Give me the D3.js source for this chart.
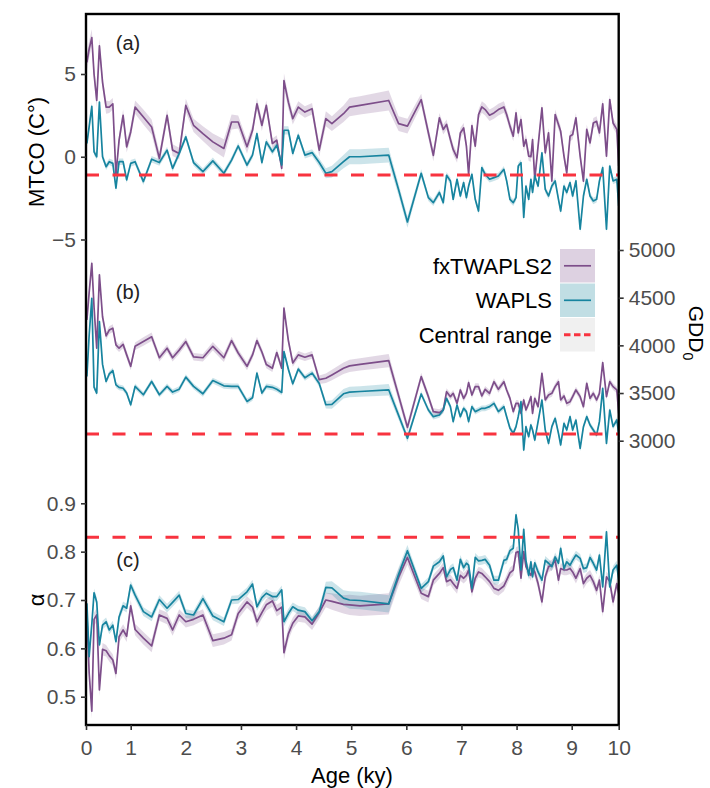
<!DOCTYPE html>
<meta charset="utf-8">
<style>
body { margin: 0; background: white; }
</style>
<body>
<script src="https://cdn.jsdelivr.net/npm/d3@7"></script>
<script>
// sample ages (ky), shared by every reconstruction
var ages = [0.02,0.07,0.13,0.18,0.24,0.30,0.37,0.45,0.52,0.60,
  0.67,0.74,0.83,0.91,1.00,1.08,1.23,1.38,1.52,1.66,
  1.76,1.88,2.00,2.14,2.31,2.49,2.69,2.83,2.95,3.11,
  3.21,3.29,3.38,3.46,3.57,3.65,3.74,3.78,3.86,3.94,
  4.04,4.16,4.29,4.42,4.54,4.65,4.86,4.97,5.16,5.68,
  5.86,6.02,6.27,6.40,6.49,6.60,6.67,6.73,6.80,6.85,
  6.92,6.98,7.04,7.09,7.13,7.19,7.25,7.31,7.37,7.43,
  7.51,7.59,7.67,7.77,7.82,7.88,7.94,7.99,8.03,8.08,
  8.13,8.17,8.22,8.26,8.29,8.33,8.39,8.46,8.52,8.58,
  8.64,8.70,8.76,8.80,8.86,8.91,8.97,9.02,9.09,9.18,
  9.25,9.32,9.39,9.46,9.53,9.59,9.66,9.74,9.81,9.88,
  9.96,10.0]

// (a) MTCO
var mtcoFx = [5.7,6.5,7.2,5.0,3.4,6.7,4.5,3.0,3.0,3.2,
  -1.1,1.0,2.5,0.6,1.5,3.0,2.4,1.8,-0.1,2.5,
  0.4,0.2,3.1,1.9,1.4,0.9,0.5,2.1,2.1,0.6,
  1.6,3.2,1.9,3.1,0.8,1.0,-0.7,4.6,3.3,2.3,
  3.0,2.7,2.9,0.4,2.3,2.0,2.6,3.0,3.1,3.4,
  2.0,1.85,3.45,1.45,0.08,2.35,1.65,1.95,1.04,0.44,
  -0.06,1.44,1.74,0.64,-1.07,1.88,0.64,2.55,3.01,2.85,
  2.51,2.65,2.85,3.01,2.55,1.85,1.24,2.65,1.44,2.25,
  0.64,1.04,0.04,0.0,1.04,-1.37,0.64,2.95,0.24,1.44,
  -1.47,2.55,1.95,1.54,0.04,-0.97,1.24,1.34,2.35,0.04,
  -1.47,1.65,0.84,2.04,2.14,1.44,3.2,0.04,3.45,2.04,
  1.65,-0.56]
var mtcoWa = [0.8,1.8,3.05,0.3,0.0,3.3,0.0,-0.6,-0.3,-0.4,
  -1.9,-0.3,-0.3,-1.4,-0.4,-0.3,-1.5,-0.15,-0.35,0.4,
  -0.7,0.2,1.2,-0.35,-0.9,-0.25,-1.0,-0.2,0.65,-0.5,
  0.1,1.4,-0.35,0.9,0.3,0.7,-0.5,1.6,1.6,0.2,
  1.3,0.1,0.25,-0.35,-1.0,-0.9,-0.3,0.0,0.0,0.1,
  -2.0,-3.94,-1.0,-2.47,-2.77,-2.16,-2.77,-1.12,-1.46,-2.57,
  -1.36,-2.37,-1.56,-2.47,-1.77,-1.06,-2.57,-3.28,-0.66,-1.06,
  -1.36,-1.26,-1.16,-0.76,-1.46,-2.57,-2.77,-2.47,-0.56,-0.36,
  -3.67,-1.77,-2.57,-1.36,-2.16,-1.16,-1.77,0.24,-1.97,-2.37,
  -1.77,-1.46,-2.57,-3.28,-1.77,-2.16,-1.56,-2.37,-1.46,-4.38,
  -2.37,-1.36,-2.37,-2.67,-2.57,-1.46,-0.66,-4.38,-0.56,-1.46,
  -1.36,-2.97]
var mtcoFxSe = [0.5,0.5,0.5,0.45,0.45,0.45,0.4,0.4,0.35,0.35,
  0.35,0.35,0.35,0.35,0.35,0.4,0.45,0.45,0.4,0.35,
  0.35,0.35,0.4,0.4,0.45,0.5,0.55,0.45,0.4,0.4,
  0.35,0.35,0.35,0.3,0.3,0.3,0.3,0.45,0.4,0.35,
  0.35,0.35,0.35,0.4,0.45,0.45,0.5,0.55,0.55,0.6,
  0.45,0.45,0.35,0.35,0.35,0.3,0.3,0.3,0.3,0.3,
  0.3,0.3,0.3,0.3,0.3,0.3,0.3,0.3,0.35,0.35,
  0.35,0.35,0.35,0.35,0.3,0.3,0.3,0.3,0.3,0.3,
  0.3,0.3,0.3,0.3,0.3,0.3,0.3,0.3,0.3,0.3,
  0.3,0.3,0.3,0.3,0.3,0.3,0.3,0.3,0.3,0.3,
  0.3,0.3,0.3,0.3,0.3,0.3,0.3,0.3,0.3,0.3,
  0.3,0.3]
var mtcoWaSe = [0.25,0.25,0.25,0.2,0.2,0.2,0.2,0.2,0.2,0.2,
  0.2,0.2,0.2,0.2,0.2,0.2,0.2,0.2,0.2,0.2,
  0.2,0.2,0.2,0.2,0.2,0.2,0.2,0.2,0.2,0.2,
  0.2,0.2,0.2,0.2,0.2,0.2,0.2,0.25,0.25,0.2,
  0.2,0.2,0.2,0.25,0.3,0.35,0.4,0.45,0.45,0.45,
  0.35,0.35,0.25,0.2,0.2,0.2,0.2,0.2,0.2,0.2,
  0.2,0.2,0.2,0.2,0.2,0.2,0.2,0.2,0.2,0.2,
  0.2,0.2,0.2,0.2,0.2,0.2,0.2,0.2,0.2,0.2,
  0.2,0.2,0.2,0.2,0.2,0.2,0.2,0.2,0.2,0.2,
  0.2,0.2,0.2,0.2,0.2,0.2,0.2,0.2,0.2,0.2,
  0.2,0.2,0.2,0.2,0.2,0.2,0.2,0.2,0.2,0.2,
  0.2,0.2]

// (b) GDD0
var gddFx = [4267,4550,4860,4400,3970,4740,4300,4100,4160,4180,
  4005,3970,4010,3900,3780,3990,4040,4090,3870,3970,
  3870,3950,4040,3880,3870,3990,3870,4050,3920,3780,
  3900,4050,3930,3800,3760,3925,3760,4390,4050,3815,
  3900,3875,3900,3640,3655,3690,3760,3785,3800,3840,
  3472,3140,3672,3462,3305,3294,3322,3514,3462,3497,
  3392,3532,3444,3497,3609,3479,3567,3567,3469,3539,
  3497,3619,3539,3619,3532,3444,3305,3392,3392,3287,
  3427,3322,3392,3462,3287,3444,3357,3707,3427,3479,
  3497,3567,3619,3427,3469,3392,3409,3462,3532,3462,
  3357,3602,3444,3497,3427,3497,3819,3462,3619,3567,
  3532,3287]
var gddWa = [3673,4100,4494,3562,3500,4249,3800,3621,3700,3736,
  3586,3560,3550,3500,3377,3569,3482,3621,3482,3569,
  3510,3540,3667,3570,3492,3631,3576,3570,3570,3412,
  3450,3709,3500,3569,3560,3540,3506,3935,3750,3597,
  3751,3660,3709,3600,3377,3380,3492,3510,3516,3534,
  3266,3025,3490,3322,3252,3270,3322,3444,3357,3200,
  3374,3252,3340,3305,3200,3357,3305,3322,3340,3340,
  3357,3392,3305,3357,3252,3130,3077,3147,3252,3409,
  2902,3147,3042,3165,3112,3007,3200,3427,3112,2972,
  3147,3235,3077,2955,3182,3112,3252,3112,3217,2920,
  3147,3252,3165,3112,3060,3200,3549,2972,3322,3147,
  3217,3077]
var gddFxSe = [45,45,45,45,40,40,40,40,40,40,
  40,40,40,40,40,40,45,45,40,40,
  40,40,40,40,40,45,45,40,40,40,
  40,40,40,40,40,40,40,45,45,40,
  40,40,40,45,50,55,60,65,65,70,
  55,50,40,40,35,35,35,35,35,35,
  35,35,35,35,35,35,35,35,35,35,
  35,35,35,35,35,35,35,35,35,35,
  35,35,35,35,35,35,35,35,35,35,
  35,35,35,35,35,35,35,35,35,35,
  35,35,35,35,35,35,35,35,35,35,
  35,35]
var gddWaSe = [35,35,35,30,30,30,30,30,30,30,
  30,30,30,30,30,30,30,30,30,30,
  30,30,30,30,30,30,30,30,30,30,
  30,30,30,30,30,30,30,35,35,30,
  30,30,30,35,40,45,50,55,55,60,
  45,40,30,30,30,30,30,30,30,30,
  30,30,30,30,30,30,30,30,30,30,
  30,30,30,30,30,30,30,30,30,30,
  30,30,30,30,30,30,30,30,30,30,
  30,30,30,30,30,30,30,30,30,30,
  30,30,30,30,30,30,30,30,30,30,
  30,30]

// (c) alpha
var alphaFx = [0.672,0.55,0.47,0.66,0.669,0.514,0.598,0.595,0.585,0.576,
  0.548,0.624,0.638,0.625,0.688,0.639,0.621,0.605,0.669,0.662,
  0.638,0.669,0.655,0.660,0.669,0.616,0.621,0.628,0.672,0.696,
  0.685,0.655,0.674,0.690,0.698,0.678,0.685,0.591,0.630,0.652,
  0.667,0.665,0.650,0.674,0.700,0.697,0.691,0.690,0.688,0.692,
  0.747,0.788,0.714,0.707,0.741,0.755,0.767,0.738,0.742,0.734,
  0.724,0.751,0.745,0.751,0.762,0.717,0.745,0.758,0.755,0.748,
  0.738,0.724,0.720,0.729,0.741,0.756,0.762,0.798,0.800,0.745,
  0.800,0.769,0.758,0.751,0.765,0.758,0.734,0.696,0.748,0.769,
  0.772,0.782,0.741,0.765,0.762,0.762,0.765,0.758,0.745,0.765,
  0.734,0.745,0.751,0.738,0.720,0.741,0.676,0.748,0.738,0.696,
  0.734,0.714]
var alphaWa = [0.693,0.583,0.65,0.715,0.696,0.607,0.648,0.655,0.638,0.648,
  0.614,0.665,0.688,0.683,0.731,0.710,0.676,0.665,0.701,0.683,
  0.695,0.710,0.672,0.669,0.703,0.667,0.655,0.700,0.701,0.717,
  0.733,0.686,0.705,0.714,0.707,0.707,0.721,0.655,0.672,0.686,
  0.679,0.676,0.657,0.676,0.726,0.725,0.704,0.700,0.699,0.692,
  0.753,0.802,0.724,0.738,0.770,0.779,0.791,0.748,0.763,0.767,
  0.741,0.784,0.767,0.776,0.772,0.724,0.788,0.781,0.782,0.784,
  0.772,0.741,0.741,0.782,0.784,0.802,0.807,0.876,0.846,0.762,
  0.846,0.782,0.751,0.779,0.748,0.777,0.758,0.741,0.782,0.776,
  0.769,0.789,0.776,0.807,0.765,0.779,0.772,0.782,0.793,0.786,
  0.765,0.767,0.788,0.776,0.762,0.793,0.727,0.841,0.727,0.762,
  0.772,0.741]
var alphaFxSe = [0.015,0.015,0.015,0.014,0.014,0.013,0.013,0.012,0.012,0.012,
  0.012,0.012,0.012,0.012,0.012,0.012,0.013,0.013,0.012,0.012,
  0.012,0.012,0.012,0.012,0.012,0.013,0.013,0.012,0.012,0.012,
  0.012,0.012,0.012,0.012,0.012,0.012,0.012,0.014,0.013,0.012,
  0.012,0.012,0.012,0.013,0.015,0.017,0.019,0.021,0.021,0.022,
  0.017,0.015,0.012,0.012,0.011,0.011,0.011,0.011,0.011,0.011,
  0.011,0.011,0.011,0.011,0.011,0.011,0.011,0.011,0.011,0.011,
  0.011,0.011,0.011,0.011,0.011,0.011,0.011,0.011,0.011,0.011,
  0.011,0.011,0.011,0.011,0.011,0.011,0.011,0.011,0.011,0.011,
  0.011,0.011,0.011,0.011,0.011,0.011,0.011,0.011,0.011,0.011,
  0.011,0.011,0.011,0.011,0.011,0.011,0.011,0.011,0.011,0.011,
  0.011,0.011]
var alphaWaSe = [0.01,0.01,0.01,0.009,0.009,0.009,0.009,0.009,0.009,0.009,
  0.009,0.009,0.009,0.009,0.009,0.009,0.009,0.009,0.009,0.009,
  0.009,0.009,0.009,0.009,0.009,0.009,0.009,0.009,0.009,0.009,
  0.009,0.009,0.009,0.009,0.009,0.009,0.009,0.01,0.01,0.009,
  0.009,0.009,0.009,0.01,0.012,0.014,0.016,0.018,0.018,0.018,
  0.014,0.012,0.009,0.009,0.009,0.009,0.009,0.009,0.009,0.009,
  0.009,0.009,0.009,0.009,0.009,0.009,0.009,0.009,0.009,0.009,
  0.009,0.009,0.009,0.009,0.009,0.009,0.009,0.009,0.009,0.009,
  0.009,0.009,0.009,0.009,0.009,0.009,0.009,0.009,0.009,0.009,
  0.009,0.009,0.009,0.009,0.009,0.009,0.009,0.009,0.009,0.009,
  0.009,0.009,0.009,0.009,0.009,0.009,0.009,0.009,0.009,0.009,
  0.009,0.009]

// central range of the modern training set
var centralMtco = -1.1
var centralGdd = 3070
var centralAlpha = 0.83

var ageTicks = [0, 1, 2, 3, 4, 5, 6, 7, 8, 9, 10]
var mtcoTicks = [-5, 0, 5]
var gddTicks = [3000, 3500, 4000, 4500, 5000]
var alphaTicks = [0.5, 0.6, 0.7, 0.8, 0.9]
var legendLabels = ['fxTWAPLS2', 'WAPLS', 'Central range']

draw()

function draw() {
  var font = '"Liberation Sans", Arial, sans-serif'
  var purple = '#7d4e8a'
  var teal = '#17849f'
  var red = '#f8333f'

  var width = 710
  var height = 788
  var x0 = 86, x1 = 618.7, y0 = 14, y1 = 725

  var svg = d3.select('body').append('svg')
    .attr('width', width)
    .attr('height', height)
    .style('font-family', font)

  // the age axis of the original is squeezed at both ends
  var x = d3.scaleLinear().domain([0, 1, 9, 10]).range([x0, 130.7, 571.7, x1])
  var yMtco = d3.scaleLinear().domain([-5, 5]).range([239.5, 74])
  var yGdd = d3.scaleLinear().domain([3000, 5000]).range([440.7, 250])
  var yAlpha = d3.scaleLinear().domain([0.5, 0.9]).range([696.7, 503.3])

  svg.append('clipPath').attr('id', 'plotclip')
    .append('rect')
    .attr('x', x0).attr('y', y0)
    .attr('width', x1 - x0).attr('height', y1 - y0)

  var plot = svg.append('g').attr('clip-path', 'url(#plotclip)')

  var panels = [
    { y: yMtco, fx: mtcoFx, wa: mtcoWa, fxSe: mtcoFxSe, waSe: mtcoWaSe, central: centralMtco },
    { y: yGdd, fx: gddFx, wa: gddWa, fxSe: gddFxSe, waSe: gddWaSe, central: centralGdd },
    { y: yAlpha, fx: alphaFx, wa: alphaWa, fxSe: alphaFxSe, waSe: alphaWaSe, central: centralAlpha }
  ]

  function band(y, vals, se) {
    return d3.area()
      .x(function (d, i) { return x(ages[i]) })
      .y0(function (d, i) { return y(vals[i] - se[i]) })
      .y1(function (d, i) { return y(vals[i] + se[i]) })(vals)
  }

  function trace(y, vals) {
    return d3.line()
      .x(function (d, i) { return x(ages[i]) })
      .y(function (d) { return y(d) })(vals)
  }

  panels.forEach(function (p) {
    plot.append('path').attr('d', band(p.y, p.fx, p.fxSe))
      .attr('fill', purple).attr('fill-opacity', 0.22)
    plot.append('path').attr('d', band(p.y, p.wa, p.waSe))
      .attr('fill', teal).attr('fill-opacity', 0.22)
  })

  panels.forEach(function (p) {
    plot.append('path').attr('d', trace(p.y, p.fx))
      .attr('fill', 'none').attr('stroke', purple).attr('stroke-width', 1.7)
      .attr('stroke-linejoin', 'round')
    plot.append('path').attr('d', trace(p.y, p.wa))
      .attr('fill', 'none').attr('stroke', teal).attr('stroke-width', 1.7)
      .attr('stroke-linejoin', 'round')
  })

  panels.forEach(function (p) {
    plot.append('line')
      .attr('x1', x0).attr('x2', x1)
      .attr('y1', p.y(p.central)).attr('y2', p.y(p.central))
      .attr('stroke', red).attr('stroke-width', 3)
      .attr('stroke-dasharray', '13,13.5')
  })

  // frame
  svg.append('rect')
    .attr('x', x0).attr('y', y0)
    .attr('width', x1 - x0).attr('height', y1 - y0)
    .attr('fill', 'none').attr('stroke', 'black').attr('stroke-width', 2.4)

  function styleAxis(g) {
    g.select('.domain').remove()
    g.selectAll('.tick line').attr('stroke', '#333').attr('stroke-width', 1.6)
    g.selectAll('.tick text')
      .attr('fill', '#4d4d4d')
      .style('font-size', '21px')
      .style('font-family', font)
  }

  svg.append('g').attr('transform', 'translate(' + x0 + ',0)')
    .call(d3.axisLeft(yMtco).tickValues(mtcoTicks).tickSize(5).tickPadding(5))
    .call(styleAxis)

  svg.append('g').attr('transform', 'translate(' + x0 + ',0)')
    .call(d3.axisLeft(yAlpha).tickValues(alphaTicks).tickSize(5).tickPadding(5).tickFormat(d3.format('.1f')))
    .call(styleAxis)

  svg.append('g').attr('transform', 'translate(' + x1 + ',0)')
    .call(d3.axisRight(yGdd).tickValues(gddTicks).tickSize(5).tickPadding(5).tickFormat(d3.format('d')))
    .call(styleAxis)

  svg.append('g').attr('transform', 'translate(0,' + y1 + ')')
    .call(d3.axisBottom(x).tickValues(ageTicks).tickSize(5).tickPadding(10).tickFormat(d3.format('d')))
    .call(styleAxis)

  // axis titles
  svg.append('text')
    .attr('transform', 'translate(44,152) rotate(-90)')
    .attr('text-anchor', 'middle')
    .style('font-size', '22px')
    .text('MTCO (C°)')

  svg.append('text')
    .attr('transform', 'translate(44,600) rotate(-90)')
    .attr('text-anchor', 'middle')
    .style('font-size', '22px')
    .text('α')

  var gddTitle = svg.append('text')
    .attr('transform', 'translate(689,333) rotate(90)')
    .attr('text-anchor', 'middle')
    .style('font-size', '21px')
  gddTitle.append('tspan').text('GDD')
  gddTitle.append('tspan').attr('dy', 6).style('font-size', '14px').text('0')

  svg.append('text')
    .attr('x', 352).attr('y', 783)
    .attr('text-anchor', 'middle')
    .style('font-size', '22px')
    .text('Age (ky)')

  // panel tags
  var tags = [['(a)', 50], ['(b)', 299], ['(c)', 567]]
  tags.forEach(function (t) {
    svg.append('text')
      .attr('x', 128).attr('y', t[1])
      .attr('text-anchor', 'middle')
      .attr('fill', '#222')
      .style('font-size', '20px')
      .text(t[0])
  })

  // legend
  var keyFill = ['#ddd1e1', '#c1dee4', '#f0f0f0']
  var legend = svg.append('g').attr('transform', 'translate(560,249)')
  legendLabels.forEach(function (name, i) {
    var row = legend.append('g').attr('transform', 'translate(0,' + (i * 34.5) + ')')
    row.append('rect')
      .attr('width', 35).attr('height', 33.5)
      .attr('fill', keyFill[i])
    var ln = row.append('line')
      .attr('x1', 4).attr('x2', 31)
      .attr('y1', 16.8).attr('y2', 16.8)
    if (i === 0) ln.attr('stroke', purple).attr('stroke-width', 1.7)
    if (i === 1) ln.attr('stroke', teal).attr('stroke-width', 1.7)
    if (i === 2) ln.attr('stroke', red).attr('stroke-width', 3).attr('stroke-dasharray', '6.5,3.5')
    row.append('text')
      .attr('x', -8).attr('y', 16.8)
      .attr('dy', '0.35em')
      .attr('text-anchor', 'end')
      .style('font-size', '22px')
      .text(name)
  })
}
</script>
</body>
